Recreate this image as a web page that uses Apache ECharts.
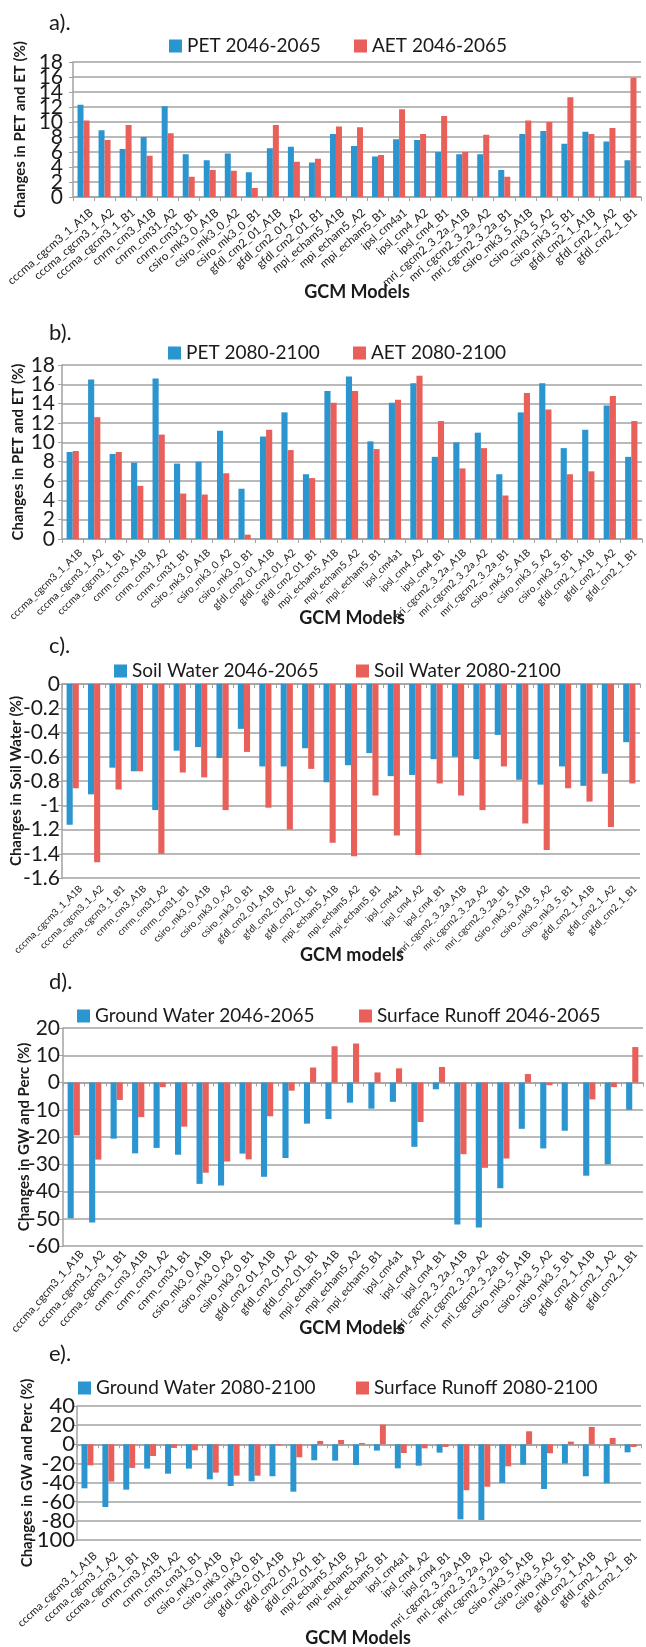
<!DOCTYPE html>
<html>
<head>
<meta charset="utf-8">
<script src="https://cdn.jsdelivr.net/npm/echarts@6/dist/echarts.min.js"></script>
<style>
    html, body {margin: 0; padding: 0; background: #fff;}
    #main {width: 646px; height: 1647px;}
</style>
</head>
<body>
<div id="main"></div>
<script>
    //GCM模型
    var models = ['cccma_cgcm3_1_A1B', 'cccma_cgcm3_1_A2', 'cccma_cgcm3_1_B1', 'cnrm_cm3_A1B', 'cnrm_cm31_A2', 'cnrm_cm31_B1',
        'csiro_mk3_0_A1B', 'csiro_mk3_0_A2', 'csiro_mk3_0_B1', 'gfdl_cm2_01_A1B', 'gfdl_cm2_01_A2', 'gfdl_cm2_01_B1',
        'mpi_echam5_A1B', 'mpi_echam5_A2', 'mpi_echam5_B1', 'ipsl_cm4a1', 'ipsl_cm4_A2', 'ipsl_cm4_B1',
        'mri_cgcm2_3_2a_A1B', 'mri_cgcm2_3_2a_A2', 'mri_cgcm2_3_2a_B1', 'csiro_mk3_5_A1B', 'csiro_mk3_5_A2', 'csiro_mk3_5_B1',
        'gfdl_cm2_1_A1B', 'gfdl_cm2_1_A2', 'gfdl_cm2_1_B1'];

    //a) PET / AET 2046-2065
    var petMid = [12.3, 8.9, 6.4, 8.0, 12.1, 5.7, 4.9, 5.8, 3.3, 6.5, 6.7, 4.6, 8.4, 6.8, 5.4, 7.7, 7.6, 6.0, 5.7, 5.7, 3.6, 8.4, 8.8, 7.1, 8.7, 7.4, 4.9];
    var aetMid = [10.2, 7.6, 9.6, 5.5, 8.5, 2.7, 3.6, 3.5, 1.2, 9.6, 4.7, 5.1, 9.4, 9.3, 5.6, 11.7, 8.4, 10.8, 6.0, 8.3, 2.7, 10.2, 10.0, 13.3, 8.4, 9.2, 15.9];

    //b) PET / AET 2080-2100
    var petEnd = [9.0, 16.5, 8.8, 7.9, 16.6, 7.8, 8.0, 11.2, 5.2, 10.6, 13.1, 6.7, 15.3, 16.8, 10.1, 14.1, 16.1, 8.5, 10.0, 11.0, 6.7, 13.1, 16.1, 9.4, 11.3, 13.8, 8.5];
    var aetEnd = [9.1, 12.6, 9.0, 5.5, 10.8, 4.7, 4.6, 6.8, 0.45, 11.3, 9.2, 6.3, 14.1, 15.3, 9.3, 14.4, 16.9, 12.2, 7.3, 9.4, 4.5, 15.1, 13.4, 6.7, 7.0, 14.8, 12.2];

    //c) 土壤水
    var soilMid = [-1.16, -0.91, -0.69, -0.72, -1.04, -0.55, -0.52, -0.61, -0.37, -0.68, -0.68, -0.53, -0.81, -0.67, -0.57, -0.76, -0.75, -0.62, -0.60, -0.62, -0.42, -0.79, -0.83, -0.68, -0.84, -0.74, -0.48];
    var soilEnd = [-0.86, -1.47, -0.87, -0.72, -1.40, -0.73, -0.77, -1.04, -0.56, -1.02, -1.20, -0.70, -1.31, -1.42, -0.92, -1.25, -1.41, -0.82, -0.92, -1.04, -0.68, -1.15, -1.37, -0.86, -0.97, -1.18, -0.82];

    //d) 地下水 / 地表径流 2046-2065
    var gwMid = [-49.8, -51.4, -20.6, -26.0, -24.0, -26.5, -37.2, -37.8, -26.1, -34.6, -27.7, -15.1, -13.4, -7.4, -9.6, -7.1, -23.6, -2.5, -52.1, -53.2, -38.8, -17.0, -24.2, -17.7, -34.2, -30.0, -10.0];
    var srMid = [-19.4, -28.3, -6.4, -12.7, -1.7, -16.2, -33.1, -29.0, -28.2, -12.4, -3.0, 5.5, 13.3, 14.3, 3.7, 5.2, -14.5, 5.7, -26.3, -31.3, -27.9, 3.1, -1.0, 0, -6.2, -1.7, 13.0];

    //e) 地下水 / 地表径流 2080-2100
    var gwEnd = [-46, -65.5, -47.4, -25.4, -30.7, -25.4, -36.6, -43.6, -38.7, -33.4, -49.5, -16.7, -17.1, -21.6, -6.6, -25.1, -22.3, -8.7, -78.4, -79.1, -40.4, -21.3, -46.7, -20.2, -33.4, -40.8, -8.4];
    var srEnd = [-22, -39, -24.7, -12.2, -3.8, -6.3, -29.6, -32.8, -32.8, -1.0, -13.6, 3.5, 4.5, 1.4, 20.6, -9.1, -4.2, -2.8, -48, -44.3, -23, 13.6, -9.4, 2.8, 18.1, 6.6, -2.8];

    var BLUE = '#2a95cf', RED = '#e95f59', GRID = '#a2a2a2', TXT = '#1a1a1a', FONT = 'Lato';

    var panels = [
        {tag: 'a).', tagY: 23, left: 73, right: 5, top: 62, height: 135, min: 0, max: 18, step: 2,
            names: ['PET 2046-2065', 'AET 2046-2065'], data: [petMid, aetMid], legendY: 46, legendX: [169, 354],
            yName: 'Changes in PET and ET (%)', nameGap: 45, yLabelSize: 21, yLabelMargin: 10,
            xTitle: 'GCM Models', xTitleX: 357, xTitleY: 292, rotate: 41, labelSize: 11.5, labelMargin: 14},
        {tag: 'b).', tagY: 333, left: 62, right: 4, top: 365, height: 174, min: 0, max: 18, step: 2,
            names: ['PET 2080-2100', 'AET 2080-2100'], data: [petEnd, aetEnd], legendY: 353, legendX: [168, 353],
            yName: 'Changes in PET and ET (%)', nameGap: 36, yLabelSize: 21, yLabelMargin: 7,
            xTitle: 'GCM Models', xTitleX: 352, xTitleY: 618, rotate: 44, labelSize: 10.2, labelMargin: 12},
        {tag: 'c).', tagY: 646, left: 62, right: 6, top: 684, height: 194, min: -1.6, max: 0, step: 0.2,
            names: ['Soil Water 2046-2065', 'Soil Water 2080-2100'], data: [soilMid, soilEnd], legendY: 671, legendX: [114, 356],
            yName: 'Changes in Soil Water (%)', nameGap: 38, yLabelSize: 21, yLabelMargin: 2,
            xTitle: 'GCM models', xTitleX: 352, xTitleY: 955, rotate: 45, labelSize: 9.7, labelMargin: 9},
        {tag: 'd).', tagY: 982, left: 63, right: 3, top: 1028, height: 218, min: -60, max: 20, step: 10,
            names: ['Ground Water 2046-2065', 'Surface Runoff 2046-2065'], data: [gwMid, srMid], legendY: 1016, legendX: [77, 359],
            yName: 'Changes in GW and Perc (%)', nameGap: 31, yLabelSize: 21, yLabelMargin: 3,
            xTitle: 'GCM Models', xTitleX: 352, xTitleY: 1328, rotate: 49, labelSize: 11, labelMargin: 6},
        {tag: 'e).', tagY: 1354, left: 77, right: 5, top: 1406, height: 134, min: -100, max: 40, step: 20,
            names: ['Ground Water 2080-2100', 'Surface Runoff 2080-2100'], data: [gwEnd, srEnd], legendY: 1388, legendX: [78, 356],
            yName: 'Changes in GW and Perc (%)', nameGap: 42, yLabelSize: 22, yLabelMargin: 2,
            xTitle: 'GCM Models', xTitleX: 358, xTitleY: 1638, rotate: 43, labelSize: 11, labelMargin: 14}
    ];

    var option = {
        animation: false,
        backgroundColor: '#fff',
        textStyle: {fontFamily: FONT},
        grid: [], xAxis: [], yAxis: [], series: [], legend: [], graphic: []
    };

    panels.forEach(function (p, k) {
        var g = k * 3, gl = k * 3 + 1, gy = k * 3 + 2;
        var tickGap = p.height / ((p.max - p.min) / p.step);

        //主网格
        option.grid.push({left: p.left, right: p.right, top: p.top, height: p.height, containLabel: false});
        //横轴标签网格(右移8px, 和原图对齐)
        option.grid.push({left: p.left + 8, right: p.right - 8, top: p.top, height: p.height, containLabel: false});
        //纵轴标签网格(上下各多一格, 避免首尾标签被自动隐藏)
        option.grid.push({left: p.left, right: p.right, top: p.top - tickGap, height: p.height + 2 * tickGap, containLabel: false});

        option.xAxis.push({
            gridIndex: g, type: 'category', data: models,
            axisLine: {onZero: true, lineStyle: {color: GRID, width: 1.5}},
            axisTick: {show: true, length: 4, interval: 0, lineStyle: {color: GRID, width: 1}},
            axisLabel: {show: false}, splitLine: {show: false}
        });
        option.xAxis.push({
            gridIndex: gl, type: 'category', data: models,
            axisLine: {show: false, onZero: false}, axisTick: {show: false}, splitLine: {show: false},
            axisLabel: {interval: 0, rotate: p.rotate, fontSize: p.labelSize, fontFamily: FONT, color: TXT, margin: p.labelMargin}
        });
        option.xAxis.push({gridIndex: gy, type: 'category', data: models, show: false});

        option.yAxis.push({
            gridIndex: g, type: 'value', min: p.min, max: p.max, interval: p.step,
            axisLine: {show: true, lineStyle: {color: GRID, width: 1.5}},
            axisTick: {show: true, length: 4, lineStyle: {color: GRID}},
            splitLine: {show: true, lineStyle: {color: GRID, width: 1.5}},
            axisLabel: {show: false},
            name: p.yName, nameLocation: 'middle', nameGap: p.nameGap,
            nameTextStyle: {fontFamily: FONT, fontWeight: 'bold', fontSize: 15, color: TXT}
        });
        option.yAxis.push({gridIndex: gl, type: 'value', min: 0, max: 1, show: false});
        option.yAxis.push({
            gridIndex: gy, type: 'value', min: p.min - p.step, max: p.max + p.step, interval: p.step,
            axisLine: {show: false}, axisTick: {show: false}, splitLine: {show: false},
            axisLabel: {
                fontSize: p.yLabelSize, fontFamily: FONT, color: TXT, margin: p.yLabelMargin,
                formatter: function (v) {
                    if (v < p.min - 1e-9 || v > p.max + 1e-9) return '';
                    return String(parseFloat(v.toFixed(2)));
                }
            }
        });

        [0, 1].forEach(function (j) {
            option.series.push({
                name: p.names[j], type: 'bar', xAxisIndex: g, yAxisIndex: g,
                data: p.data[j], barGap: '0%', barCategoryGap: '43%',
                itemStyle: {color: j === 0 ? BLUE : RED}
            });
            option.legend.push({
                left: p.legendX[j], top: p.legendY - 10, padding: 0, itemGap: 0,
                data: [p.names[j]], icon: 'rect', itemWidth: 13, itemHeight: 13,
                selectedMode: false,
                textStyle: {fontFamily: FONT, fontSize: 19, color: TXT, lineHeight: 20}
            });
        });

        //面板编号
        option.graphic.push({
            type: 'text', x: 49, y: p.tagY,
            style: {text: p.tag, font: '22px Lato', fill: TXT, textAlign: 'left', textVerticalAlign: 'middle', align: 'left', verticalAlign: 'middle'}
        });
        //横轴标题
        option.graphic.push({
            type: 'text', x: p.xTitleX, y: p.xTitleY,
            style: {text: p.xTitle, font: 'bold 18px Lato', fill: TXT, textAlign: 'center', textVerticalAlign: 'middle', align: 'center', verticalAlign: 'middle'}
        });
    });

    var chart = echarts.init(document.getElementById('main'));
    chart.setOption(option);
</script>
</body>
</html>
